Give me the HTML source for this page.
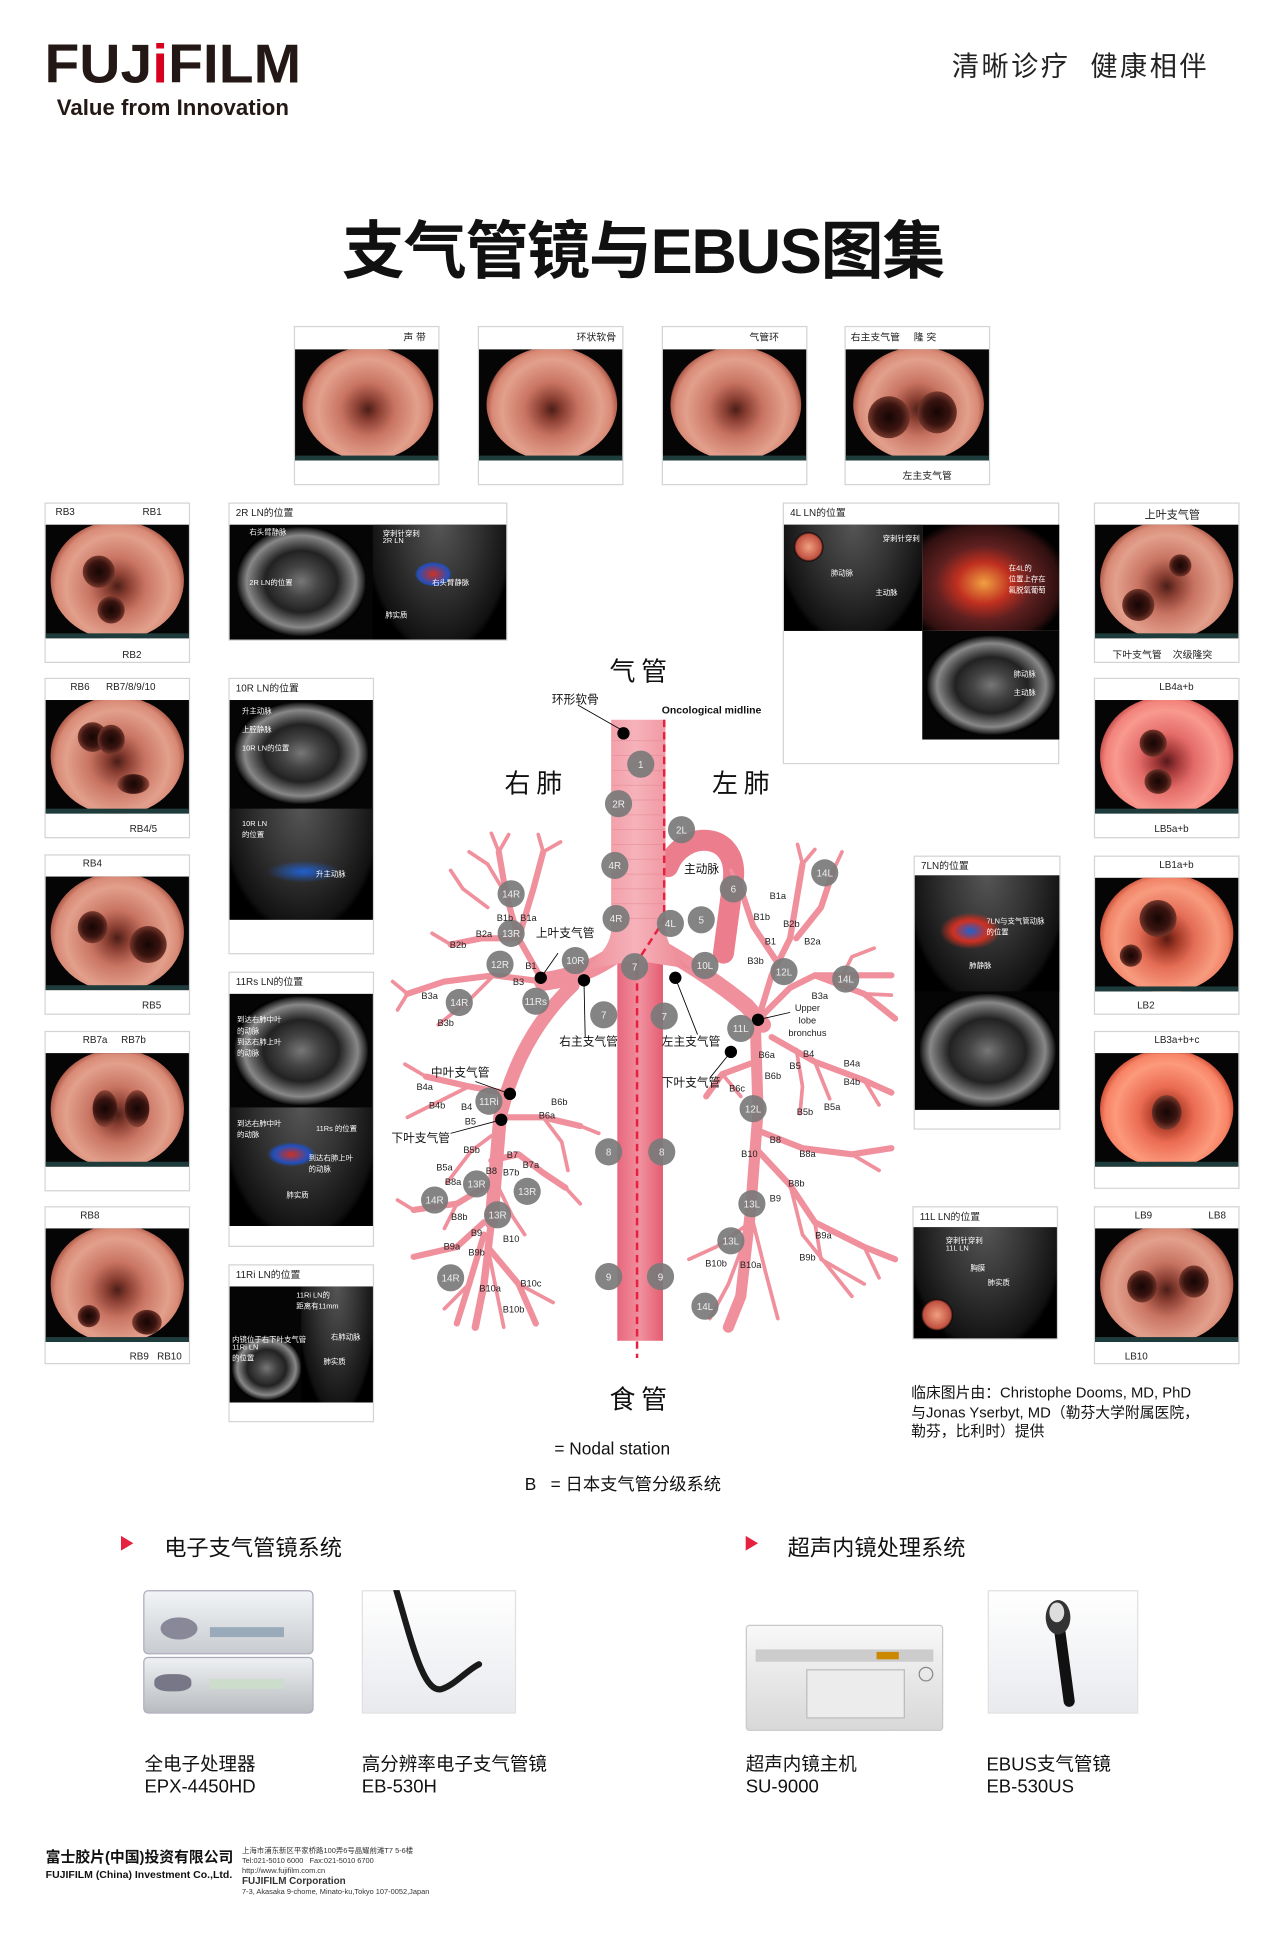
<!DOCTYPE html>
<html><head><meta charset="utf-8">
<style>
*{margin:0;padding:0;box-sizing:border-box}
html,body{width:1284px;height:1936px;overflow:hidden;background:#fff}
#w{position:absolute;left:0;top:0;width:1040px;height:1568px;transform:scale(1.2346);transform-origin:0 0;font-family:"Liberation Sans","Noto Sans CJK SC",sans-serif;color:#111}
.a{position:absolute}
.card{position:absolute;background:#fff;border:1px solid #d4d4d4}
.lab{position:absolute;font-size:8px;color:#222;white-space:nowrap}
.img{position:absolute;background:#050505;overflow:hidden}
.scope{position:absolute;border-radius:50%;background:radial-gradient(circle at 50% 55%,#4a1e18 0,#8a3f32 12%,#c97463 30%,#e2a08c 55%,#d88a76 66%,#b25d4c 72%,#000 74%)}
.strip{position:absolute;left:0;right:0;bottom:0;height:4px;background:#1e3c3c}
.hole{position:absolute;border-radius:50%;background:radial-gradient(circle,#150604 0,#3a1410 45%,#8a4436 80%,transparent 100%)}
.ct{position:absolute;border-radius:45%;background:radial-gradient(ellipse at 50% 50%,#777 0,#444 20%,#222 40%,#888 60%,#333 68%,#000 72%)}
.us{position:absolute;background:radial-gradient(ellipse at 50% 0%,#555 0,#333 40%,#111 75%,#000 80%)}
</style></head><body><div id="w">

<!-- header -->
<div class="a" style="left:36px;top:28px;font-size:44px;font-weight:bold;letter-spacing:0px;color:#231815;font-family:'Liberation Sans Narrow','Liberation Sans',sans-serif;transform:scaleX(1.05);transform-origin:0 0">FUJ<span style="color:#d7001f">i</span>FILM</div>
<div class="a" style="left:46px;top:77px;font-size:18px;font-weight:bold;color:#231815">Value from Innovation</div>
<div class="a" style="left:771px;top:36px;font-size:22px;letter-spacing:2px;color:#222">清晰诊疗&nbsp; 健康相伴</div>
<div class="a" style="left:277px;top:162px;font-size:51px;font-weight:bold;color:#111;letter-spacing:-1px">支气管镜与EBUS图集</div>

<!-- top cards -->
<div class="card" style="left:238px;top:264px;width:118px;height:129px"><div class="lab" style="right:10px;top:3px">声 带</div><div class="img" style="left:0;top:18px;width:116px;height:90px"><div class="scope" style="left:6px;top:-2px;width:106px;height:92px"></div><div class="strip"></div></div></div>
<div class="card" style="left:387px;top:264px;width:118px;height:129px"><div class="lab" style="right:5px;top:3px">环状软骨</div><div class="img" style="left:0;top:18px;width:116px;height:90px"><div class="scope" style="left:6px;top:-2px;width:106px;height:92px"></div><div class="strip"></div></div></div>
<div class="card" style="left:536px;top:264px;width:118px;height:129px"><div class="lab" style="right:22px;top:3px">气管环</div><div class="img" style="left:0;top:18px;width:116px;height:90px"><div class="scope" style="left:6px;top:-2px;width:106px;height:92px"></div><div class="strip"></div></div></div>
<div class="card" style="left:684px;top:264px;width:118px;height:129px"><div class="lab" style="left:4px;top:3px">右主支气管&nbsp;&nbsp;&nbsp;&nbsp; 隆 突</div><div class="img" style="left:0;top:18px;width:116px;height:90px"><div class="scope" style="left:6px;top:-2px;width:106px;height:92px"></div><div class="hole" style="left:18px;top:38px;width:34px;height:34px"></div><div class="hole" style="left:58px;top:34px;width:32px;height:34px"></div><div class="strip"></div></div><div class="lab" style="left:46px;top:115px">左主支气管</div></div>

<!-- left column -->
<div class="card" style="left:36px;top:407px;width:118px;height:130px"><div class="lab" style="left:8px;top:2px">RB3</div><div class="lab" style="right:22px;top:2px">RB1</div><div class="img" style="left:0;top:17px;width:116px;height:92px"><div class="scope" style="left:4px;top:-3px;width:108px;height:96px"></div><div class="hole" style="left:30px;top:25px;width:26px;height:26px"></div><div class="hole" style="left:42px;top:58px;width:22px;height:22px"></div><div class="strip"></div></div><div class="lab" style="left:62px;top:118px">RB2</div></div>
<div class="card" style="left:36px;top:549px;width:118px;height:130px"><div class="lab" style="left:20px;top:2px">RB6&nbsp;&nbsp;&nbsp;&nbsp;&nbsp; RB7/8/9/10</div><div class="img" style="left:0;top:17px;width:116px;height:92px"><div class="scope" style="left:4px;top:-3px;width:108px;height:96px"></div><div class="hole" style="left:26px;top:18px;width:24px;height:24px"></div><div class="hole" style="left:42px;top:20px;width:22px;height:24px"></div><div class="hole" style="left:58px;top:60px;width:26px;height:16px"></div><div class="strip"></div></div><div class="lab" style="left:68px;top:117px">RB4/5</div></div>
<div class="card" style="left:36px;top:692px;width:118px;height:130px"><div class="lab" style="left:30px;top:2px">RB4</div><div class="img" style="left:0;top:17px;width:116px;height:92px"><div class="scope" style="left:4px;top:-3px;width:108px;height:96px"></div><div class="hole" style="left:26px;top:28px;width:24px;height:26px"></div><div class="hole" style="left:68px;top:40px;width:30px;height:30px"></div><div class="strip"></div></div><div class="lab" style="left:78px;top:117px">RB5</div></div>
<div class="card" style="left:36px;top:835px;width:118px;height:130px"><div class="lab" style="left:30px;top:2px">RB7a&nbsp;&nbsp;&nbsp;&nbsp; RB7b</div><div class="img" style="left:0;top:17px;width:116px;height:92px"><div class="scope" style="left:4px;top:-3px;width:108px;height:96px"></div><div class="hole" style="left:38px;top:30px;width:20px;height:30px"></div><div class="hole" style="left:64px;top:30px;width:20px;height:30px"></div><div class="strip"></div></div></div>
<div class="card" style="left:36px;top:977px;width:118px;height:128px"><div class="lab" style="left:28px;top:2px">RB8</div><div class="img" style="left:0;top:17px;width:116px;height:92px"><div class="scope" style="left:4px;top:-3px;width:108px;height:96px"></div><div class="hole" style="left:26px;top:62px;width:18px;height:18px"></div><div class="hole" style="left:70px;top:66px;width:24px;height:20px"></div><div class="strip"></div></div><div class="lab" style="left:68px;top:116px">RB9&nbsp;&nbsp; RB10</div></div>

<!-- right column -->
<div class="card" style="left:886px;top:407px;width:118px;height:130px"><div class="lab" style="left:40px;top:2px;font-size:9px">上叶支气管</div><div class="img" style="left:0;top:17px;width:116px;height:92px"><div class="scope" style="left:4px;top:-3px;width:108px;height:96px"></div><div class="hole" style="left:60px;top:24px;width:18px;height:18px"></div><div class="hole" style="left:22px;top:52px;width:26px;height:26px"></div><div class="strip"></div></div><div class="lab" style="left:14px;top:117px">下叶支气管&nbsp;&nbsp;&nbsp; 次级隆突</div></div>
<div class="card" style="left:886px;top:549px;width:118px;height:130px"><div class="lab" style="left:52px;top:2px">LB4a+b</div><div class="img" style="left:0;top:17px;width:116px;height:92px"><div class="scope" style="left:4px;top:-3px;width:108px;height:96px;filter:hue-rotate(-10deg) saturate(1.3)"></div><div class="hole" style="left:36px;top:24px;width:22px;height:22px"></div><div class="hole" style="left:40px;top:56px;width:22px;height:20px"></div><div class="strip"></div></div><div class="lab" style="left:48px;top:117px">LB5a+b</div></div>
<div class="card" style="left:886px;top:693px;width:118px;height:129px"><div class="lab" style="left:52px;top:2px">LB1a+b</div><div class="img" style="left:0;top:17px;width:116px;height:92px"><div class="scope" style="left:4px;top:-3px;width:108px;height:96px;filter:saturate(1.4)"></div><div class="hole" style="left:36px;top:18px;width:30px;height:30px"></div><div class="hole" style="left:20px;top:54px;width:18px;height:18px"></div><div class="strip"></div></div><div class="lab" style="left:34px;top:116px">LB2</div></div>
<div class="card" style="left:886px;top:835px;width:118px;height:128px"><div class="lab" style="left:48px;top:2px">LB3a+b+c</div><div class="img" style="left:0;top:17px;width:116px;height:92px"><div class="scope" style="left:4px;top:-3px;width:108px;height:96px;filter:saturate(1.5)"></div><div class="hole" style="left:46px;top:34px;width:24px;height:28px"></div><div class="strip"></div></div></div>
<div class="card" style="left:886px;top:977px;width:118px;height:128px"><div class="lab" style="left:32px;top:2px">LB9</div><div class="lab" style="right:10px;top:2px">LB8</div><div class="img" style="left:0;top:17px;width:116px;height:92px"><div class="scope" style="left:4px;top:-3px;width:108px;height:96px"></div><div class="hole" style="left:26px;top:34px;width:24px;height:26px"></div><div class="hole" style="left:68px;top:30px;width:24px;height:26px"></div><div class="strip"></div></div><div class="lab" style="left:24px;top:116px">LB10</div></div>

<!-- LN cards left -->
<div class="card" style="left:185px;top:407px;width:226px;height:112px"><div class="lab" style="left:5px;top:2px">2R LN的位置</div><div class="img" style="left:0;top:17px;width:224px;height:93px"><div class="ct" style="left:6px;top:2px;width:104px;height:88px"></div><div class="us" style="left:116px;top:0;width:108px;height:93px"></div><div class="a" style="left:150px;top:30px;width:30px;height:20px;background:radial-gradient(#d03020,#2050c0 60%,transparent 70%)"></div><div class="lab" style="left:16px;top:1px;color:#fff;font-size:6px">右头臂静脉</div><div class="lab" style="left:16px;top:42px;color:#fff;font-size:6px">2R LN的位置</div><div class="lab" style="left:124px;top:2px;color:#fff;font-size:6px">穿刺针穿刺<br>2R LN</div><div class="lab" style="left:164px;top:42px;color:#fff;font-size:6px">右头臂静脉</div><div class="lab" style="left:126px;top:68px;color:#fff;font-size:6px">肺实质</div></div></div>
<div class="card" style="left:185px;top:549px;width:118px;height:224px"><div class="lab" style="left:5px;top:2px">10R LN的位置</div><div class="img" style="left:0;top:17px;width:116px;height:178px"><div class="ct" style="left:4px;top:2px;width:108px;height:82px"></div><div class="us" style="left:0;top:88px;width:116px;height:90px"></div><div class="a" style="left:30px;top:130px;width:60px;height:18px;background:radial-gradient(#2060d0,transparent 70%)"></div><div class="lab" style="left:10px;top:4px;color:#fff;font-size:6px">升主动脉<br><br>上腔静脉<br><br>10R LN的位置</div><div class="lab" style="left:10px;top:98px;color:#fff;font-size:6px">10R LN<br>的位置</div><div class="lab" style="left:70px;top:136px;color:#fff;font-size:6px">升主动脉</div></div></div>
<div class="card" style="left:185px;top:787px;width:118px;height:223px"><div class="lab" style="left:5px;top:2px">11Rs LN的位置</div><div class="img" style="left:0;top:17px;width:116px;height:188px"><div class="ct" style="left:4px;top:2px;width:108px;height:88px"></div><div class="us" style="left:0;top:92px;width:116px;height:96px"></div><div class="a" style="left:30px;top:120px;width:40px;height:20px;background:radial-gradient(#d03020,#2050c0 50%,transparent 70%)"></div><div class="lab" style="left:6px;top:16px;color:#fff;font-size:6px">到达右肺中叶<br>的动脉<br>到达右肺上叶<br>的动脉</div><div class="lab" style="left:6px;top:100px;color:#fff;font-size:6px">到达右肺中叶<br>的动脉</div><div class="lab" style="left:70px;top:104px;color:#fff;font-size:6px">11Rs 的位置</div><div class="lab" style="left:64px;top:128px;color:#fff;font-size:6px">到达右肺上叶<br>的动脉</div><div class="lab" style="left:46px;top:158px;color:#fff;font-size:6px">肺实质</div></div></div>
<div class="card" style="left:185px;top:1024px;width:118px;height:128px"><div class="lab" style="left:5px;top:2px">11Ri LN的位置</div><div class="img" style="left:0;top:17px;width:116px;height:94px"><div class="ct" style="left:2px;top:40px;width:56px;height:52px"></div><div class="us" style="left:58px;top:0;width:58px;height:94px"></div><div class="lab" style="left:54px;top:2px;color:#fff;font-size:6px">11Ri LN的<br>距离有11mm</div><div class="lab" style="left:2px;top:38px;color:#fff;font-size:6px">内镜位于右下叶支气管<br>11Ri LN<br>的位置</div><div class="lab" style="left:82px;top:36px;color:#fff;font-size:6px">右肺动脉</div><div class="lab" style="left:76px;top:56px;color:#fff;font-size:6px">肺实质</div></div></div>

<!-- LN cards right -->
<div class="card" style="left:634px;top:407px;width:224px;height:212px"><div class="lab" style="left:5px;top:2px">4L LN的位置</div><div class="img" style="left:0;top:17px;width:112px;height:86px"><div class="us" style="left:0;top:0;width:112px;height:86px"></div><div class="a" style="left:8px;top:6px;width:24px;height:24px;border-radius:50%;background:radial-gradient(#f0a080,#c05040 60%,#000 70%)"></div><div class="lab" style="left:80px;top:6px;color:#fff;font-size:6px">穿刺针穿刺</div><div class="lab" style="left:38px;top:34px;color:#fff;font-size:6px">肺动脉</div><div class="lab" style="left:74px;top:50px;color:#fff;font-size:6px">主动脉</div></div><div class="img" style="left:112px;top:17px;width:111px;height:86px;background:radial-gradient(ellipse at 45% 55%,#f0a040 0,#c03020 25%,#602020 45%,#301010 70%,#000 80%)"><div class="lab" style="left:70px;top:30px;color:#fff;font-size:6px">在4L的<br>位置上存在<br>氟脱氧葡萄</div></div><div class="img" style="left:112px;top:103px;width:111px;height:88px"><div class="ct" style="left:4px;top:4px;width:104px;height:80px"></div><div class="lab" style="left:74px;top:30px;color:#fff;font-size:6px">肺动脉<br><br>主动脉</div></div></div>
<div class="card" style="left:740px;top:693px;width:119px;height:222px"><div class="lab" style="left:5px;top:2px">7LN的位置</div><div class="img" style="left:0;top:15px;width:117px;height:190px"><div class="us" style="left:0;top:0;width:117px;height:94px"></div><div class="a" style="left:20px;top:30px;width:50px;height:30px;background:radial-gradient(#2060d0,#d03020 40%,transparent 70%)"></div><div class="ct" style="left:4px;top:96px;width:110px;height:92px"></div><div class="lab" style="left:58px;top:32px;color:#fff;font-size:6px">7LN与支气管动脉<br>的位置</div><div class="lab" style="left:44px;top:68px;color:#fff;font-size:6px">肺静脉</div></div></div>
<div class="card" style="left:739px;top:977px;width:118px;height:108px"><div class="lab" style="left:5px;top:2px">11L LN的位置</div><div class="img" style="left:0;top:16px;width:116px;height:90px"><div class="us" style="left:0;top:0;width:116px;height:90px"></div><div class="a" style="left:6px;top:58px;width:26px;height:26px;border-radius:50%;background:radial-gradient(#f0a080,#c05040 60%,#000 70%)"></div><div class="lab" style="left:26px;top:6px;color:#fff;font-size:6px">穿刺针穿刺<br>11L LN</div><div class="lab" style="left:46px;top:28px;color:#fff;font-size:6px">胸膜</div><div class="lab" style="left:60px;top:40px;color:#fff;font-size:6px">肺实质</div></div></div>

<!-- diagram -->
<svg class="a" style="left:0;top:0" width="1040" height="1568" viewBox="0 0 1040 1568">
<defs>
<linearGradient id="tr" x1="0" x2="1"><stop offset="0" stop-color="#ee8b97"/><stop offset=".5" stop-color="#f6b2ba"/><stop offset="1" stop-color="#ec8491"/></linearGradient>
<linearGradient id="es" x1="0" x2="1"><stop offset="0" stop-color="#e9687d"/><stop offset=".5" stop-color="#f0909e"/><stop offset="1" stop-color="#e45d72"/></linearGradient>
</defs>
<g fill="none" stroke="#f0909c" stroke-linecap="round" stroke-linejoin="round">
<path d="M541,702 C552,672 598,672 594,712 L586,772" stroke="#ec7d8d" stroke-width="17"/>
<path d="M508,765 Q480,790 440,795" stroke-width="15"/>
<path d="M464,798 Q420,840 405,905 L398,990" stroke-width="11"/>
<path d="M398,990 L392,1040 L385,1075" stroke-width="6"/>
<g stroke-width="5">
<path d="M440,795 L400,790 L360,795 L330,805"/><path d="M438,792 L420,760 L410,725 L404,690"/><path d="M420,760 L432,720 L440,690"/><path d="M420,760 L390,760 L365,765"/>
<path d="M413,886 L380,880 L345,872"/><path d="M405,905 L440,905 L470,912"/>
<path d="M398,940 L420,935 L440,950 L458,962"/><path d="M395,960 L370,975 L335,980"/><path d="M392,990 L370,1010 L335,1018"/><path d="M392,1000 L380,1040 L370,1072"/><path d="M395,1010 L420,1040 L434,1072"/>
</g>
<g stroke-width="3">
<path d="M400,790 L380,810 L355,830"/><path d="M330,805 L318,795"/><path d="M330,805 L322,818"/><path d="M410,725 L395,700 L380,690"/><path d="M404,690 L398,675"/><path d="M404,690 L412,676"/><path d="M440,690 L436,676"/><path d="M440,690 L454,682"/><path d="M365,765 L350,756"/><path d="M395,735 L375,720 L365,705"/>
<path d="M380,880 L350,895 L330,905"/><path d="M345,872 L328,862"/><path d="M440,905 L455,925 L460,948"/><path d="M398,920 L382,932 L362,958"/>
<path d="M335,980 L322,972"/><path d="M370,975 L360,995"/><path d="M395,1010 L405,1060 L408,1075"/><path d="M380,1040 L360,1060"/><path d="M420,1040 L448,1055"/><path d="M470,912 L485,918"/><path d="M458,962 L470,975"/><path d="M398,950 L415,985 L425,1000"/>
</g>
<path d="M530,765 Q575,790 605,815 L618,830" stroke-width="13"/>
<path d="M612,836 L614,900 L608,980 L600,1050 L590,1075" stroke-width="9"/>
<g stroke-width="5">
<path d="M614,826 L640,800 L660,790 L722,790"/><path d="M614,826 L625,790 L640,760 L645,730 L650,700"/><path d="M630,780 L610,750 L600,720"/><path d="M645,760 L665,735 L675,705"/><path d="M660,790 L700,805 L725,825"/>
<path d="M625,840 L660,860 L700,875 L722,885"/><path d="M612,860 L585,870 L572,888"/><path d="M612,915 L650,930 L690,935 L722,930"/><path d="M612,930 L640,960 L660,990 L700,1010 L725,1020"/>
</g>
<g stroke-width="3">
<path d="M680,795 L690,775 L708,768"/><path d="M650,700 L646,684"/><path d="M650,700 L660,688"/><path d="M675,705 L682,690"/><path d="M600,720 L592,705"/><path d="M700,805 L722,806"/><path d="M660,860 L672,890"/><path d="M645,850 L650,880 L648,902"/><path d="M700,875 L712,895"/>
<path d="M640,960 L650,1000 L690,1050"/><path d="M608,990 L580,1010 L558,1020"/><path d="M605,1000 L590,1040 L575,1068"/><path d="M610,990 L620,1030 L630,1068"/><path d="M690,935 L712,948"/><path d="M660,990 L665,1020 L700,1040"/><path d="M585,870 L600,888"/><path d="M700,1010 L712,1035"/>
</g>
</g>
<rect x="500" y="770" width="37" height="316" fill="url(#es)"/>
<path d="M495,583 L539,583 L539,752 Q540,770 560,785 L515,778 L470,786 Q495,770 495,752 Z" fill="url(#tr)"/>
<g stroke="#e07b88" stroke-width="0.6" opacity=".5"><path d="M496,600H538M496,612H538M496,624H538M496,636H538M496,648H538M496,660H538M496,672H538M496,684H538M496,696H538M496,708H538M496,720H538M496,732H538M496,744H538"/></g>
<path d="M538,583 L538,745 L516,779 L516,1100" fill="none" stroke="#e5213f" stroke-width="2" stroke-dasharray="6,4"/>
<g fill="#000"><circle cx="505" cy="594" r="5"/><circle cx="438" cy="792" r="5"/><circle cx="473" cy="794" r="5"/><circle cx="547" cy="792" r="5"/><circle cx="614" cy="826" r="5"/><circle cx="592" cy="852" r="5"/><circle cx="413" cy="886" r="5"/><circle cx="406" cy="907" r="5"/></g>
<g stroke="#000" stroke-width="0.7" fill="none"><path d="M468,571 L503,591"/><path d="M438,792 L452,772"/><path d="M473,794 L474,840"/><path d="M547,792 L565,838"/><path d="M614,826 L640,820"/><path d="M592,852 L575,873"/><path d="M413,886 L385,876"/><path d="M406,907 L365,918"/></g>
<g fill="#7a7a7a" opacity=".92">
<circle cx="519" cy="619" r="11"/><circle cx="501" cy="651" r="11"/><circle cx="552" cy="672" r="11"/><circle cx="498" cy="701" r="11"/><circle cx="499" cy="744" r="11"/><circle cx="543" cy="748" r="11"/><circle cx="568" cy="745" r="11"/><circle cx="594" cy="720" r="11"/><circle cx="668" cy="707" r="11"/><circle cx="414" cy="724" r="11"/><circle cx="414" cy="756" r="11"/><circle cx="405" cy="781" r="11"/><circle cx="466" cy="778" r="11"/><circle cx="514" cy="783" r="11"/><circle cx="571" cy="782" r="11"/><circle cx="635" cy="787" r="11"/><circle cx="685" cy="793" r="11"/><circle cx="372" cy="812" r="11"/><circle cx="434" cy="811" r="11"/><circle cx="489" cy="822" r="11"/><circle cx="538" cy="823" r="11"/><circle cx="600" cy="833" r="11"/><circle cx="396" cy="892" r="11"/><circle cx="610" cy="898" r="11"/><circle cx="493" cy="933" r="11"/><circle cx="536" cy="933" r="11"/><circle cx="386" cy="959" r="11"/><circle cx="427" cy="965" r="11"/><circle cx="352" cy="972" r="11"/><circle cx="609" cy="975" r="11"/><circle cx="403" cy="984" r="11"/><circle cx="592" cy="1005" r="11"/><circle cx="365" cy="1035" r="11"/><circle cx="493" cy="1034" r="11"/><circle cx="535" cy="1034" r="11"/><circle cx="571" cy="1058" r="11"/>
</g>
<g fill="#eee" font-size="8" text-anchor="middle" font-family="Liberation Sans,sans-serif">
<text x="519" y="622">1</text><text x="501" y="654">2R</text><text x="552" y="675">2L</text><text x="498" y="704">4R</text><text x="499" y="747">4R</text><text x="543" y="751">4L</text><text x="568" y="748">5</text><text x="594" y="723">6</text><text x="668" y="710">14L</text><text x="414" y="727">14R</text><text x="414" y="759">13R</text><text x="405" y="784">12R</text><text x="466" y="781">10R</text><text x="514" y="786">7</text><text x="571" y="785">10L</text><text x="635" y="790">12L</text><text x="685" y="796">14L</text><text x="372" y="815">14R</text><text x="434" y="814">11Rs</text><text x="489" y="825">7</text><text x="538" y="826">7</text><text x="600" y="836">11L</text><text x="396" y="895">11Ri</text><text x="610" y="901">12L</text><text x="493" y="936">8</text><text x="536" y="936">8</text><text x="386" y="962">13R</text><text x="427" y="968">13R</text><text x="352" y="975">14R</text><text x="609" y="978">13L</text><text x="403" y="987">13R</text><text x="592" y="1008">13L</text><text x="365" y="1038">14R</text><text x="493" y="1037">9</text><text x="535" y="1037">9</text><text x="571" y="1061">14L</text>
</g>
<g fill="#222" font-size="7.5" text-anchor="middle" font-family="Liberation Sans,sans-serif">
<text x="409" y="746">B1b</text><text x="428" y="746">B1a</text><text x="392" y="759">B2a</text><text x="371" y="768">B2b</text><text x="430" y="785">B1</text><text x="420" y="798">B3</text><text x="348" y="809">B3a</text><text x="361" y="831">B3b</text><text x="344" y="883">B4a</text><text x="354" y="898">B4b</text><text x="378" y="899">B4</text><text x="381" y="911">B5</text><text x="453" y="895">B6b</text><text x="443" y="906">B6a</text><text x="382" y="934">B5b</text><text x="360" y="948">B5a</text><text x="415" y="938">B7</text><text x="430" y="946">B7a</text><text x="398" y="951">B8</text><text x="414" y="952">B7b</text><text x="367" y="960">B8a</text><text x="372" y="988">B8b</text><text x="386" y="1001">B9</text><text x="414" y="1006">B10</text><text x="366" y="1012">B9a</text><text x="386" y="1017">B9b</text><text x="397" y="1046">B10a</text><text x="430" y="1042">B10c</text><text x="416" y="1063">B10b</text>
<text x="630" y="728">B1a</text><text x="617" y="745">B1b</text><text x="641" y="751">B2b</text><text x="624" y="765">B1</text><text x="658" y="765">B2a</text><text x="612" y="781">B3b</text><text x="664" y="809">B3a</text><text x="654" y="819">Upper</text><text x="654" y="829">lobe</text><text x="654" y="839">bronchus</text><text x="621" y="857">B6a</text><text x="655" y="856">B4</text><text x="644" y="866">B5</text><text x="690" y="864">B4a</text><text x="626" y="874">B6b</text><text x="690" y="879">B4b</text><text x="597" y="884">B6c</text><text x="652" y="903">B5b</text><text x="674" y="899">B5a</text><text x="628" y="926">B8</text><text x="607" y="937">B10</text><text x="654" y="937">B8a</text><text x="645" y="961">B8b</text><text x="628" y="973">B9</text><text x="667" y="1003">B9a</text><text x="654" y="1021">B9b</text><text x="580" y="1026">B10b</text><text x="608" y="1027">B10a</text>
</g>
<g fill="#111" font-size="9.5" font-family="Liberation Sans,Noto Sans CJK SC,sans-serif">
<text x="447" y="570">环形软骨</text><text x="536" y="578" font-weight="bold" font-size="8.5">Oncological midline</text><text x="554" y="707">主动脉</text><text x="434" y="759">上叶支气管</text><text x="453" y="847">右主支气管</text><text x="536" y="847">左主支气管</text><text x="349" y="872">中叶支气管</text><text x="317" y="925">下叶支气管</text><text x="536" y="880">下叶支气管</text>
</g>
<g fill="#111" font-size="21" font-family="Noto Sans CJK SC,sans-serif" text-anchor="middle">
<text x="517" y="551">气 管</text><text x="432" y="642">右 肺</text><text x="600" y="642">左 肺</text><text x="517" y="1141">食 管</text>
</g>
</svg>

<div class="a" style="left:449px;top:1165px;font-size:14px">= Nodal station</div>
<div class="a" style="left:425px;top:1192px;font-size:14px">B&nbsp;&nbsp; = 日本支气管分级系统</div>
<div class="a" style="left:738px;top:1121px;font-size:12px;line-height:15.5px">临床图片由：Christophe Dooms, MD, PhD<br>与Jonas Yserbyt, MD（勒芬大学附属医院，<br>勒芬，比利时）提供</div>

<div class="a" style="left:98px;top:1244px;width:0;height:0;border-left:10px solid #e5213f;border-top:6px solid transparent;border-bottom:6px solid transparent"></div>
<div class="a" style="left:133px;top:1240px;font-size:18px">电子支气管镜系统</div>
<div class="a" style="left:604px;top:1244px;width:0;height:0;border-left:10px solid #e5213f;border-top:6px solid transparent;border-bottom:6px solid transparent"></div>
<div class="a" style="left:638px;top:1240px;font-size:18px">超声内镜处理系统</div>

<div class="a" style="left:116px;top:1288px;width:138px;height:52px;background:linear-gradient(#f2f4f6,#c8ccd0);border-radius:4px;border:1px solid #aab"></div>
<div class="a" style="left:130px;top:1310px;width:30px;height:18px;border-radius:50%;background:#889"></div>
<div class="a" style="left:170px;top:1318px;width:60px;height:8px;background:#9ab"></div>
<div class="a" style="left:116px;top:1342px;width:138px;height:46px;background:linear-gradient(#eef0f2,#b8bcc0);border-radius:4px;border:1px solid #aab"></div>
<div class="a" style="left:125px;top:1356px;width:30px;height:14px;border-radius:40%;background:#778"></div>
<div class="a" style="left:170px;top:1360px;width:60px;height:8px;background:#cdc"></div>
<div class="a" style="left:293px;top:1288px;width:125px;height:100px;background:linear-gradient(#fff,#e8eaee);border:1px solid #e0e0e0"></div>
<svg class="a" style="left:293px;top:1288px" width="125" height="100"><path d="M28,0 C40,40 50,85 65,80 C75,77 85,65 95,60" fill="none" stroke="#1a1a1a" stroke-width="5" stroke-linecap="round"/></svg>
<div class="a" style="left:604px;top:1316px;width:160px;height:86px;background:linear-gradient(#f8f8f8,#d8d8d8);border:1px solid #c8c8c8;border-radius:3px"></div>
<div class="a" style="left:612px;top:1336px;width:144px;height:10px;background:#ccc"></div>
<div class="a" style="left:710px;top:1338px;width:18px;height:6px;background:#c80"></div>
<div class="a" style="left:653px;top:1352px;width:80px;height:40px;background:#ececec;border:1px solid #bbb"></div>
<div class="a" style="left:744px;top:1350px;width:12px;height:12px;border-radius:50%;border:1px solid #888"></div>
<div class="a" style="left:800px;top:1288px;width:122px;height:100px;background:linear-gradient(#fff,#e8eaee);border:1px solid #e0e0e0"></div>
<svg class="a" style="left:800px;top:1288px" width="122" height="100"><path d="M58,30 L66,90" stroke="#111" stroke-width="9" stroke-linecap="round"/><ellipse cx="57" cy="22" rx="10" ry="14" fill="#333"/><ellipse cx="56" cy="18" rx="6" ry="8" fill="#ddd"/></svg>

<div class="a" style="left:117px;top:1421px;font-size:15px;line-height:18px">全电子处理器<br>EPX-4450HD</div>
<div class="a" style="left:293px;top:1421px;font-size:15px;line-height:18px">高分辨率电子支气管镜<br>EB-530H</div>
<div class="a" style="left:604px;top:1421px;font-size:15px;line-height:18px">超声内镜主机<br>SU-9000</div>
<div class="a" style="left:799px;top:1421px;font-size:15px;line-height:18px">EBUS支气管镜<br>EB-530US</div>

<div class="a" style="left:37px;top:1495px;font-size:12px;font-weight:bold">富士胶片(中国)投资有限公司</div>
<div class="a" style="left:37px;top:1513px;font-size:8.5px;font-weight:bold">FUJIFILM (China) Investment Co.,Ltd.</div>
<div class="a" style="left:196px;top:1496px;font-size:6px;line-height:8px;color:#333">上海市浦东新区平家桥路100弄6号晶耀前滩T7 5-6楼<br>Tel:021-5010 6000&nbsp;&nbsp; Fax:021-5010 6700<br>http://www.fujifilm.com.cn<br><b style="font-size:8px">FUJIFILM Corporation</b><br>7-3, Akasaka 9-chome, Minato-ku,Tokyo 107-0052,Japan</div>
</div></body></html>
